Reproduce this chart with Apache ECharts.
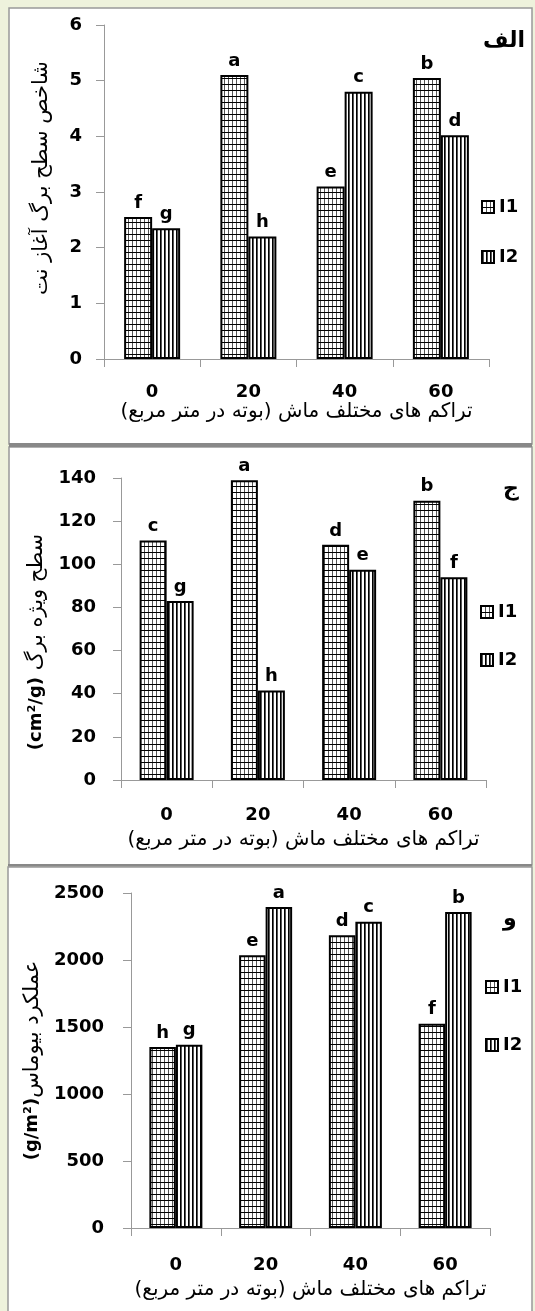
<!DOCTYPE html>
<html>
<head>
<meta charset="utf-8">
<script src="https://cdn.jsdelivr.net/npm/echarts@6/dist/echarts.min.js"></script>
<style>html,body{margin:0;padding:0;background:#eef2dc;}#c{width:535px;height:1311px;}</style>
</head>
<body>
<div id="c"></div>
<script>
// ---- data ----
const categories = ['0', '20', '40', '60'];
const seriesNames = ['I1', 'I2'];
// Panel الف: leaf area index
const laiI1 = [2.55, 5.1, 3.1, 5.05];
const laiI2 = [2.35, 2.2, 4.8, 4.02];
const laiI1Letters = ['f', 'a', 'e', 'b'];
const laiI2Letters = ['g', 'h', 'c', 'd'];
// Panel ج: specific leaf area (cm2/g)
const slaI1 = [111, 139, 109, 129.5];
const slaI2 = [83, 41.5, 97.5, 94];
const slaI1Letters = ['c', 'a', 'd', 'b'];
const slaI2Letters = ['g', 'h', 'e', 'f'];
// Panel و: biomass yield (g/m2)
const byI1 = [1350, 2035, 2185, 1525];
const byI2 = [1368, 2395, 2285, 2358];
const byI1Letters = ['h', 'e', 'd', 'f'];
const byI2Letters = ['g', 'a', 'c', 'b'];

const panelTitles = ['الف', 'ج', 'و'];
const xName = 'تراکم های مختلف ماش (بوته در متر مربع)\u200F';
const yName1 = 'شاخص سطح برگ آغاز نت';
const yName2a = '(cm²/g)';
const yName2b = 'سطح ویژه برگ';
const yName3a = '(g/m²)';
const yName3b = 'عملکرد بیوماس';

// ---- patterns ----
function pat(type) {
  const c = document.createElement('canvas');
  const x = c.getContext('2d');
  if (type === 1) {
    c.width = 4; c.height = 6;
    x.fillStyle = '#fff'; x.fillRect(0, 0, 4, 6);
    x.fillStyle = '#555'; x.fillRect(0, 0, 1, 6);
    x.fillStyle = '#000'; x.fillRect(0, 0, 4, 1);
  } else {
    c.width = 4; c.height = 4;
    x.fillStyle = '#fff'; x.fillRect(0, 0, 4, 4);
    x.fillStyle = '#000'; x.fillRect(0, 0, 1, 4);
    x.fillStyle = '#555'; x.fillRect(1, 0, 1, 4);
  }
  return { image: c, repeat: 'repeat' };
}
const p1 = pat(1), p2 = pat(2);
const FF = 'DejaVu Sans';

const grids = [
  { left: 104, top: 25, width: 385, height: 334 },
  { left: 121, top: 478, width: 365, height: 302 },
  { left: 131, top: 893, width: 359, height: 335 }
];
const yCfg = [
  { max: 6, interval: 1, margin: 22, name: yName1, gap: 52, pad: [0, 0, 0, 28] },
  { max: 140, interval: 20, margin: 25, name: '{a|' + yName2a + '} {b|' + yName2b + '}', gap: 74, pad: [0, 26, 0, 0] },
  { max: 2500, interval: 500, margin: 27, name: '{a|' + yName3a + '}{b|' + yName3b + '}', gap: 84, pad: [0, 0, 0, 0] }
];
const xCfg = [{ margin: 24, gap: 42 }, { margin: 26, gap: 50 }, { margin: 28, gap: 52 }];
const barW = [28, 27, 26.5];
const dataSets = [[laiI1, laiI2, laiI1Letters, laiI2Letters], [slaI1, slaI2, slaI1Letters, slaI2Letters], [byI1, byI2, byI1Letters, byI2Letters]];

const xAxis = [], yAxis = [], series = [];
for (let i = 0; i < 3; i++) {
  xAxis.push({
    type: 'category', gridIndex: i, data: categories,
    axisLine: { lineStyle: { color: '#999', width: 1 } },
    axisTick: { show: true, length: 8, interval: 0, lineStyle: { color: '#999' } },
    axisLabel: { margin: xCfg[i].margin, fontSize: 18, fontWeight: 'bold', color: '#000', fontFamily: FF },
    name: xName, nameLocation: 'middle', nameGap: xCfg[i].gap,
    nameTextStyle: { fontSize: 20, color: '#000', fontFamily: FF }
  });
  yAxis.push({
    type: 'value', gridIndex: i, min: 0, max: yCfg[i].max, interval: yCfg[i].interval,
    splitLine: { show: false },
    axisLine: { show: true, lineStyle: { color: '#999', width: 1 } },
    axisTick: { show: true, length: 8, lineStyle: { color: '#999' } },
    axisLabel: { margin: yCfg[i].margin, fontSize: 18, fontWeight: 'bold', color: '#000', fontFamily: FF, formatter: v => String(v) },
    name: yCfg[i].name, nameLocation: 'middle', nameRotate: 90, nameGap: yCfg[i].gap,
    nameTextStyle: {
      fontSize: 21, color: '#000', fontFamily: FF, padding: yCfg[i].pad,
      rich: {
        a: { fontSize: 18, fontWeight: 'bold', color: '#000', fontFamily: FF },
        b: { fontSize: 21, color: '#000', fontFamily: FF }
      }
    }
  });
  const d = dataSets[i];
  [0, 1].forEach(k => {
    series.push({
      name: seriesNames[k], type: 'bar', xAxisIndex: i, yAxisIndex: i,
      data: d[k], barWidth: barW[i], barGap: '0%',
      itemStyle: { color: k === 0 ? p1 : p2, borderColor: '#000', borderWidth: 2 },
      label: {
        show: true, position: 'top', distance: 5,
        formatter: p => d[k + 2][p.dataIndex],
        fontSize: 18, fontWeight: 'bold', color: '#000', fontFamily: FF
      },
      emphasis: { disabled: true }
    });
  });
}

const legendCfg = [{ left: 481, top: 197, gap: 30 }, { left: 480, top: 602, gap: 28 }, { left: 485, top: 977, gap: 38 }];
const legend = legendCfg.map(l => ({
  data: seriesNames, orient: 'vertical', left: l.left, top: l.top, padding: 0,
  itemWidth: 12, itemHeight: 12, itemGap: l.gap, icon: 'rect', selectedMode: false,
  textStyle: { fontSize: 18, fontWeight: 'bold', color: '#000', fontFamily: FF, lineHeight: 20 }
}));

const titlePos = [{ left: 483, top: 30 }, { left: 503, top: 478 }, { left: 503, top: 908 }];
const title = titlePos.map((t, i) => ({
  text: panelTitles[i], left: t.left, top: t.top, padding: 0,
  textStyle: { fontSize: 22, fontWeight: 'bold', color: '#000', fontFamily: FF }
}));

const graphic = [
  { type: 'rect', z: -100, shape: { x: 9, y: 8, width: 523, height: 436 }, style: { fill: '#fff', stroke: '#999', lineWidth: 1.5 } },
  { type: 'rect', z: -100, shape: { x: 9, y: 447, width: 523, height: 418 }, style: { fill: '#fff', stroke: '#999', lineWidth: 1.5 } },
  { type: 'rect', z: -100, shape: { x: 8, y: 867, width: 524, height: 450 }, style: { fill: '#fff', stroke: '#999', lineWidth: 1.5 } },
  { type: 'rect', z: -99, shape: { x: 9, y: 443, width: 523, height: 4 }, style: { fill: '#888' } },
  { type: 'rect', z: -99, shape: { x: 8, y: 864, width: 524, height: 2.5 }, style: { fill: '#888' } }
];

const chart = echarts.init(document.getElementById('c'), null, { renderer: 'canvas' });
chart.setOption({
  backgroundColor: '#eef2dc',
  animation: false,
  textStyle: { fontFamily: FF },
  title, legend, graphic,
  grid: grids,
  xAxis, yAxis, series
});
</script>
</body>
</html>
